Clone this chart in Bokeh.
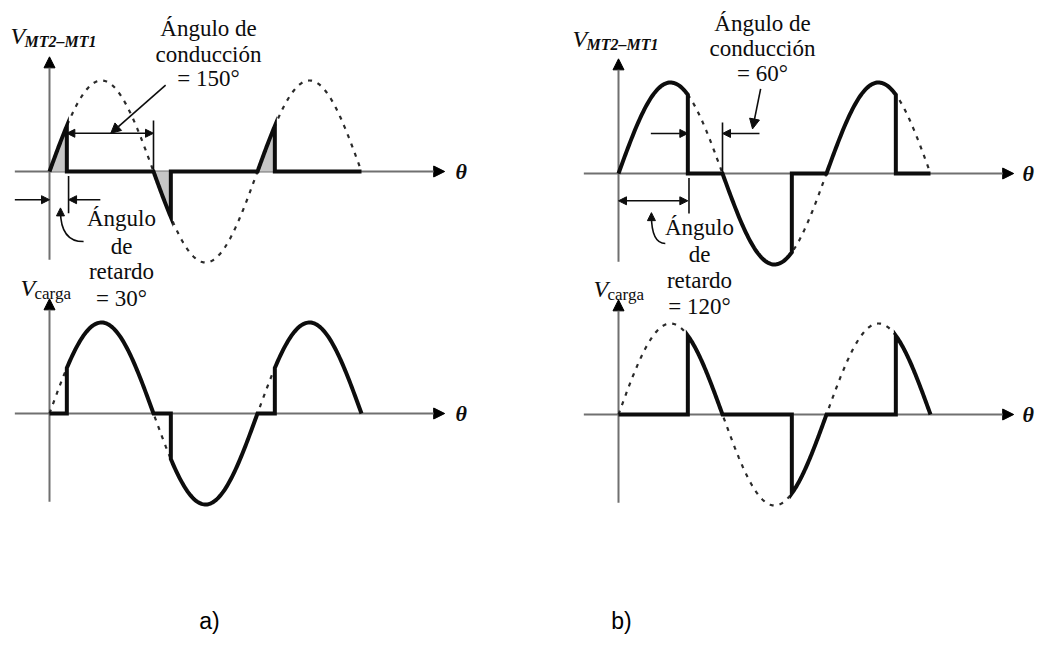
import numpy as np
from bokeh.plotting import figure
from bokeh.models import Range1d, Arrow, NormalHead
from bokeh.core.properties import value
from bokeh.embed import file_html
from bokeh.resources import INLINE

# ---- waveform parameters -------------------------------------------------
half_cycle_starts = [0, 180, 360]          # degrees
cycle_end = 540                            # degrees shown on each trace
delay_angle = {"a": 30, "b": 120}          # ángulo de retardo
conduction_angle = {"a": 150, "b": 60}     # ángulo de conducción
panel_tags = ["a)", "b)"]

# ---- page geometry -------------------------------------------------------
W, H = 1039, 646
DEG_PX = 104 / 180      # pixels per degree
AMP_PX = 91             # pixels per unit of amplitude
panel_origin = {        # pixel position of (0°, 0 V) for every trace
    "a_top": (49, 171), "a_bot": (49, 413),
    "b_top": (618, 173), "b_bot": (618, 414),
}

SERIF = value("Liberation Serif")
SANS = value("Liberation Sans")
INK = "#0d0d0d"
AXIS_GREY = "#707070"

p = figure(width=W, height=H, x_range=Range1d(0, W), y_range=Range1d(H, 0),
           output_backend="svg", toolbar_location=None,
           x_axis_type=None, y_axis_type=None, min_border=0,
           outline_line_color=None, background_fill_color="white")
p.xgrid.visible = False
p.ygrid.visible = False

for name, (x0, y0) in panel_origin.items():
    p.extra_x_ranges[name] = Range1d(-x0 / DEG_PX, (W - x0) / DEG_PX)
    p.extra_y_ranges[name] = Range1d((y0 - H) / AMP_PX, y0 / AMP_PX)


def sine(th):
    return np.sin(np.radians(th))


def triac_wave(delay):
    xs, ys = [], []
    for s in half_cycle_starts:
        th = np.linspace(s, s + delay, 60)
        xs += list(th) + [s + delay, s + 180]
        ys += list(sine(th)) + [0.0, 0.0]
    return xs, ys


def load_wave(delay):
    xs, ys = [], []
    for s in half_cycle_starts:
        th = np.linspace(s + delay, s + 180, 80)
        xs += [s, s + delay] + list(th)
        ys += [0.0, 0.0] + list(sine(th))
    return xs, ys


def axes(name):
    kw = dict(x_range_name=name, y_range_name=name, level="underlay")
    p.add_layout(Arrow(end=NormalHead(size=11, fill_color="black", line_color="black"),
                       x_start=-60, y_start=0, x_end=684, y_end=0,
                       line_color=AXIS_GREY, line_width=2, **kw))
    p.add_layout(Arrow(end=NormalHead(size=11, fill_color="black", line_color="black"),
                       x_start=0, y_start=-0.97, x_end=0, y_end=1.26,
                       line_color=AXIS_GREY, line_width=2, **kw))


def dotted_source(name):
    th = np.linspace(0, cycle_end, 400)
    p.line(th, sine(th), line_color="#2a2a2a", line_width=2.2, line_dash="4 6",
           x_range_name=name, y_range_name=name)


def arrow(name, xs, ys, xe, ye, both=False, size=8, width=1.6):
    kw = dict(x_range_name=name, y_range_name=name)
    head = lambda: NormalHead(size=size, fill_color=INK, line_color=INK)
    p.add_layout(Arrow(start=head() if both else None, end=head(),
                       x_start=xs, y_start=ys, x_end=xe, y_end=ye,
                       line_color=INK, line_width=width, **kw))


def tick(name, x, y0, y1):
    p.segment(x0=[x], y0=[y0], x1=[x], y1=[y1], line_color=INK, line_width=1.6,
              x_range_name=name, y_range_name=name)


def curved_pointer(name, xs, ys, xe, ye):
    p.quadratic(x0=[xs], y0=[ys], x1=[xe], y1=[ye - 0.03], cx=[xe], cy=[ys],
                line_color=INK, line_width=1.6, x_range_name=name, y_range_name=name)
    arrow(name, xe, ye - 0.06, xe, ye)


def text_lines(lines, x, ys, size="23px", align="center"):
    p.text(x=[x] * len(lines), y=ys, text=lines, text_font=SERIF,
           text_font_size=size, text_align=align, text_baseline="middle",
           text_color=INK)


# ---- traces --------------------------------------------------------------
for col in ["a", "b"]:
    d = delay_angle[col]
    top, bot = f"{col}_top", f"{col}_bot"
    for name in (top, bot):
        axes(name)
        dotted_source(name)

    if col == "a":
        for s in half_cycle_starts:
            th = np.linspace(s, s + d, 40)
            p.varea(x=th, y1=np.zeros_like(th), y2=sine(th), fill_color="#c6c6c6",
                    x_range_name=top, y_range_name=top)

    tx, ty = triac_wave(d)
    p.line(tx, ty, line_color=INK, line_width=4, line_join="miter",
           x_range_name=top, y_range_name=top)
    lx, ly = load_wave(d)
    p.line(lx, ly, line_color=INK, line_width=4, line_join="miter",
           x_range_name=bot, y_range_name=bot)

# ---- dimension marks, a) -------------------------------------------------
da, ca = delay_angle["a"], conduction_angle["a"]
arrow("a_top", da, 0.42, da + ca, 0.42, both=True)
tick("a_top", da + ca, 0.0, 0.56)
arrow("a_top", 201, 0.95, 106, 0.42, size=10)
arrow("a_top", -60, -0.31, 0, -0.31)
arrow("a_top", da + 58, -0.31, da + 3, -0.31)
tick("a_top", da + 3, -0.05, -0.46)
curved_pointer("a_top", 59, -0.77, 19, -0.40)

# ---- dimension marks, b) -------------------------------------------------
db, cb = delay_angle["b"], conduction_angle["b"]
arrow("b_top", db - 64, 0.44, db, 0.44)
arrow("b_top", db + cb + 64, 0.44, db + cb, 0.44)
tick("b_top", db + cb, 0.0, 0.56)
arrow("b_top", 246, 0.93, 232, 0.49, size=10)
arrow("b_top", 0, -0.30, db, -0.30, both=True)
tick("b_top", db + 2, -0.05, -0.44)
curved_pointer("b_top", 81, -0.77, 57, -0.43)

# ---- annotation texts (page pixels) --------------------------------------
text_lines(["Ángulo de", "conducción", f"= {ca}°"], 208, [28, 54, 78])
text_lines(["Ángulo", "de", "retardo", f"= {da}°"], 121, [218, 246, 271, 298])
text_lines(["Ángulo de", "conducción", f"= {cb}°"], 762, [23, 48, 73])
text_lines(["Ángulo", "de", "retardo", f"= {db}°"], 699, [227, 254, 280, 306])

# axis titles
for vx, vy, sub in [(10, 35, "MT2–MT1"), (572, 38, "MT2–MT1"),
                    (20, 287, "carga"), (593, 288, "carga")]:
    p.text(x=[vx], y=[vy], text=["V"], text_font=SERIF, text_font_size="24px",
           text_font_style="italic", text_baseline="alphabetic", text_color=INK)
    is_mt = sub.startswith("MT")
    p.text(x=[vx + 14], y=[vy + 6], text=[sub], text_font=SERIF,
           text_font_size="16px" if is_mt else "17px",
           text_font_style="bold italic" if is_mt else "normal",
           text_baseline="alphabetic", text_color=INK)

for tx_, ty_ in [(455, 171), (455, 413), (1022, 173), (1022, 414)]:
    p.text(x=[tx_], y=[ty_], text=["θ"], text_font=SERIF, text_font_size="22px",
           text_font_style="bold italic", text_baseline="middle", text_color=INK)

p.text(x=[209, 621], y=[620, 620], text=panel_tags, text_font=SANS,
       text_font_size="23px", text_align="center", text_baseline="middle",
       text_color="#000000")

open("out.html", "w").write(file_html(p, INLINE))
